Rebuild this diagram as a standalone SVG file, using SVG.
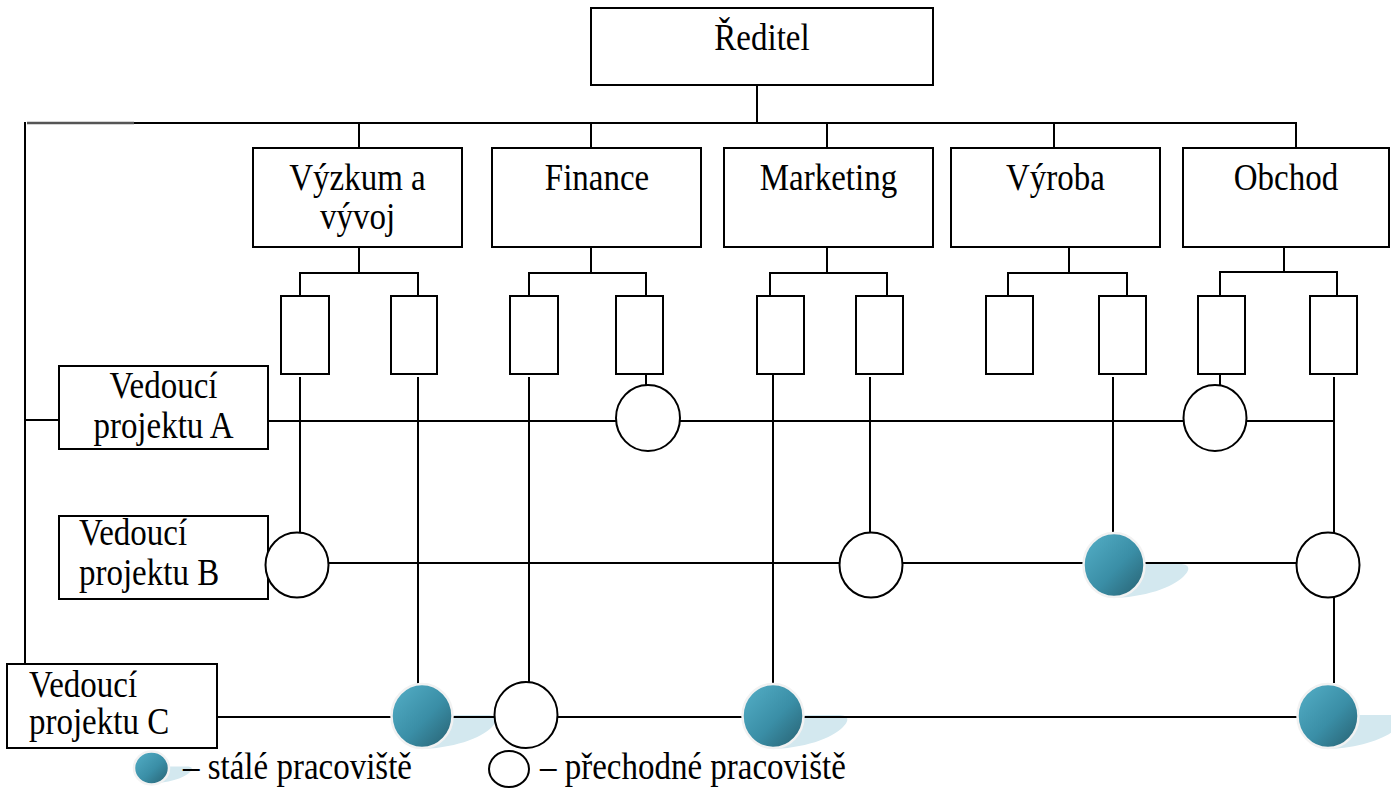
<svg xmlns="http://www.w3.org/2000/svg" width="1391" height="789" viewBox="0 0 1391 789">
  <style>
    .box { fill: #ffffff; stroke: #000000; stroke-width: 2; }
    .ln { fill: none; stroke: #000000; stroke-width: 2; }
    .lbl { font-family: "Liberation Serif", "Times New Roman", serif; font-size: 33px; fill: #000000; }
    .mid { text-anchor: middle; }
    .temp { fill: #ffffff; stroke: #000000; stroke-width: 2; }
    .perm { fill: url(#teal); stroke: #f2f2f2; stroke-width: 2.5; }
    .shade { fill: #d3e8ef; }
  </style>
  <defs>
    <linearGradient id="teal" x1="0" y1="0" x2="1" y2="1">
      <stop offset="0" stop-color="#55b0c8"/>
      <stop offset="0.55" stop-color="#3a8ea6"/>
      <stop offset="1" stop-color="#275f6f"/>
    </linearGradient>
    <!-- soft reflection lying to the lower right of a permanent-workplace ball -->
    <path id="shadow" d="M -4,33 C 30,33 60,22 70,11 C 78,3 74,-1 66,-1 L 0,-1 Z"/>
  </defs>

  <!-- reflections under the filled balls -->
  <g id="shadows">
    <use href="#shadow" class="shade" x="1114" y="565"/>
    <use href="#shadow" class="shade" x="422" y="716"/>
    <use href="#shadow" class="shade" x="773" y="716"/>
    <use href="#shadow" class="shade" x="1328" y="716"/>
    <use href="#shadow" class="shade" transform="translate(151 767) scale(0.55 0.5)"/>
  </g>

  <g id="connectors">
    <!-- director to departments -->
    <line class="ln" x1="757" y1="85" x2="757" y2="123"/>
    <line x1="27" y1="123" x2="134" y2="123" stroke="#555555" stroke-width="2.5"/>
    <line class="ln" x1="134" y1="123" x2="1297" y2="123"/>
    <line class="ln" x1="25" y1="122" x2="25" y2="664"/>
    <line class="ln" x1="25" y1="420" x2="59" y2="420"/>
    <line class="ln" x1="359" y1="123" x2="359" y2="148"/>
    <line class="ln" x1="591" y1="123" x2="591" y2="148"/>
    <line class="ln" x1="827" y1="123" x2="827" y2="148"/>
    <line class="ln" x1="1054" y1="123" x2="1054" y2="148"/>
    <line class="ln" x1="1296" y1="122" x2="1296" y2="148"/>

    <!-- departments to their units -->
    <path class="ln" d="M359,247 V273 M300,296 V273 H418 V296"/>
    <path class="ln" d="M591,247 V273 M529,296 V273 H646 V296"/>
    <path class="ln" d="M827,247 V273 M770,296 V273 H887 V296"/>
    <path class="ln" d="M1069,247 V273 M1008,296 V273 H1127 V296"/>
    <path class="ln" d="M1284,247 V272 M1220,296 V272 H1337 V296"/>

    <!-- units down to the project workplaces -->
    <line class="ln" x1="300" y1="377" x2="300" y2="534"/>
    <line class="ln" x1="418" y1="377" x2="418" y2="684"/>
    <line class="ln" x1="529" y1="377" x2="529" y2="683"/>
    <line class="ln" x1="646" y1="374" x2="646" y2="386"/>
    <line class="ln" x1="773" y1="374" x2="773" y2="684"/>
    <line class="ln" x1="870" y1="377" x2="870" y2="534"/>
    <line class="ln" x1="1113" y1="377" x2="1113" y2="534"/>
    <line class="ln" x1="1220" y1="374" x2="1220" y2="386"/>
    <line class="ln" x1="1334" y1="377" x2="1334" y2="683"/>

    <!-- project lines -->
    <line class="ln" x1="268" y1="421" x2="1334" y2="421"/>
    <line class="ln" x1="266" y1="563" x2="1297" y2="563"/>
    <line class="ln" x1="217" y1="717" x2="1299" y2="717"/>
  </g>

  <!-- labels are stretched 12% upward from their baseline -->
  <g id="director">
    <rect class="box" x="591" y="8" width="342" height="77"/>
    <text class="lbl mid" x="762" y="50" transform="matrix(1 0 0 1.12 0 -6)">Ředitel</text>
  </g>

  <g id="dept-vyzkum">
    <rect class="box" x="253" y="148" width="209" height="99"/>
    <text class="lbl mid" x="357.5" y="190" transform="matrix(1 0 0 1.12 0 -22.8)">Výzkum a</text>
    <text class="lbl mid" x="357.5" y="229" transform="matrix(1 0 0 1.12 0 -27.48)">vývoj</text>
  </g>
  <g id="dept-finance">
    <rect class="box" x="492" y="148" width="209" height="99"/>
    <text class="lbl mid" x="597" y="190" transform="matrix(1 0 0 1.12 0 -22.8)">Finance</text>
  </g>
  <g id="dept-marketing">
    <rect class="box" x="724" y="148" width="209" height="99"/>
    <text class="lbl mid" x="828.5" y="190" transform="matrix(1 0 0 1.12 0 -22.8)">Marketing</text>
  </g>
  <g id="dept-vyroba">
    <rect class="box" x="951" y="148" width="209" height="99"/>
    <text class="lbl mid" x="1055.5" y="190" transform="matrix(1 0 0 1.12 0 -22.8)">Výroba</text>
  </g>
  <g id="dept-obchod">
    <rect class="box" x="1183" y="148" width="206" height="99"/>
    <text class="lbl mid" x="1286" y="190" transform="matrix(1 0 0 1.12 0 -22.8)">Obchod</text>
  </g>

  <g id="units">
    <rect class="box" x="281" y="296" width="48" height="78"/>
    <rect class="box" x="391" y="296" width="46" height="78"/>
    <rect class="box" x="510" y="296" width="48" height="78"/>
    <rect class="box" x="616" y="296" width="47" height="78"/>
    <rect class="box" x="757" y="296" width="47" height="78"/>
    <rect class="box" x="856" y="296" width="47" height="78"/>
    <rect class="box" x="986" y="296" width="47" height="78"/>
    <rect class="box" x="1099" y="296" width="47" height="78"/>
    <rect class="box" x="1198" y="296" width="47" height="78"/>
    <rect class="box" x="1310" y="296" width="47" height="78"/>
  </g>

  <g id="leader-a">
    <rect class="box" x="59" y="366" width="209" height="83"/>
    <text class="lbl mid" x="163.5" y="398" transform="matrix(1 0 0 1.12 0 -47.76)">Vedoucí</text>
    <text class="lbl mid" x="163.5" y="438" transform="matrix(1 0 0 1.12 0 -52.56)">projektu A</text>
  </g>
  <g id="leader-b">
    <rect class="box" x="59" y="516" width="209" height="83"/>
    <text class="lbl" x="79" y="545" transform="matrix(1 0 0 1.12 0 -65.4)">Vedoucí</text>
    <text class="lbl" x="79" y="585" transform="matrix(1 0 0 1.12 0 -70.2)">projektu B</text>
  </g>
  <g id="leader-c">
    <rect class="box" x="7" y="664" width="210" height="84"/>
    <text class="lbl" x="29" y="697" transform="matrix(1 0 0 1.12 0 -83.64)">Vedoucí</text>
    <text class="lbl" x="29" y="734" transform="matrix(1 0 0 1.12 0 -88.08)">projektu C</text>
  </g>

  <g id="project-a">
    <ellipse class="temp" cx="648" cy="418" rx="32" ry="33"/>
    <ellipse class="temp" cx="1215" cy="418" rx="31.5" ry="33"/>
  </g>
  <g id="project-b">
    <ellipse class="temp" cx="297" cy="565" rx="31.5" ry="32.5"/>
    <ellipse class="temp" cx="871" cy="565" rx="31.5" ry="32.5"/>
    <ellipse class="perm" cx="1114" cy="565" rx="30.5" ry="32"/>
    <ellipse class="temp" cx="1328" cy="565" rx="31.5" ry="32.5"/>
  </g>
  <g id="project-c">
    <ellipse class="perm" cx="422" cy="716" rx="30.5" ry="32"/>
    <ellipse class="temp" cx="526" cy="715" rx="31.5" ry="33"/>
    <ellipse class="perm" cx="773" cy="716" rx="30.5" ry="32"/>
    <ellipse class="perm" cx="1328" cy="716" rx="30.5" ry="32"/>
  </g>

  <g id="legend">
    <ellipse class="perm" cx="151.5" cy="768" rx="17.5" ry="16.5" stroke-width="1.5"/>
    <text class="lbl" x="183" y="779" transform="matrix(1 0 0 1.12 0 -93.48)">– stálé pracoviště</text>
    <ellipse class="temp" cx="509" cy="769" rx="20" ry="18" stroke-width="1.8"/>
    <text class="lbl" x="540" y="779" transform="matrix(1 0 0 1.12 0 -93.48)">– přechodné pracoviště</text>
  </g>
</svg>
